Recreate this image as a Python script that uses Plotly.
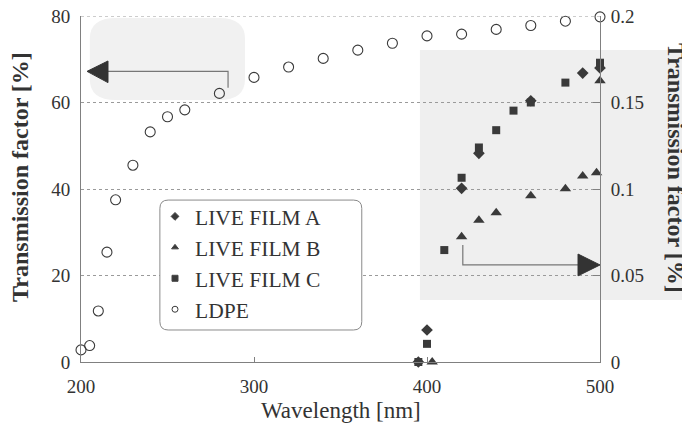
import plotly.graph_objects as go

# ---- data ----
ldpe_x = [200, 205, 210, 215, 220, 230, 240, 250, 260, 280, 300, 320, 340, 360, 380, 400, 420, 440, 460, 480, 500]
ldpe_y = [2.8, 3.8, 11.8, 25.4, 37.5, 45.5, 53.2, 56.7, 58.3, 62.1, 65.8, 68.2, 70.2, 72.1, 73.7, 75.4, 75.8, 76.9, 77.8, 78.8, 79.8]

filmA_x = [395, 400, 420, 430, 460, 490, 500]
filmA_y = [0.0, 0.0185, 0.1004, 0.1206, 0.151, 0.167, 0.170]

filmB_x = [403, 420, 430, 440, 460, 480, 490, 498, 500]
filmB_y = [0.0, 0.0724, 0.082, 0.0863, 0.0961, 0.1002, 0.1075, 0.1094, 0.1626]

filmC_x = [395, 400, 410, 420, 430, 440, 450, 460, 480, 500]
filmC_y = [0.0, 0.0105, 0.0647, 0.1065, 0.124, 0.134, 0.1453, 0.150, 0.1615, 0.173]

x_ticks = [200, 300, 400, 500]
y_ticks = [0, 20, 40, 60, 80]
y2_ticks = [0, 0.05, 0.1, 0.15, 0.2]
y2_labels = ["0", "0.05", "0.1", "0.15", "0.2"]

FONT = "Liberation Serif, Times New Roman, serif"
INK = "#333333"
MK = "#3a3a3a"
AXC = "#808080"

fig = go.Figure()

# real data traces
fig.add_trace(go.Scatter(x=filmA_x, y=filmA_y, yaxis="y2", mode="markers", showlegend=False,
                         marker=dict(symbol="diamond", size=9, color=MK), cliponaxis=False))
fig.add_trace(go.Scatter(x=filmB_x, y=filmB_y, yaxis="y2", mode="markers", showlegend=False,
                         marker=dict(symbol="triangle-up", size=10, color=MK), cliponaxis=False))
fig.add_trace(go.Scatter(x=filmC_x, y=filmC_y, yaxis="y2", mode="markers", showlegend=False,
                         marker=dict(symbol="square", size=8, color=MK), cliponaxis=False))
fig.add_trace(go.Scatter(x=ldpe_x, y=ldpe_y, mode="markers", showlegend=False,
                         marker=dict(symbol="circle-open", size=10, color=MK, line=dict(width=1.1)),
                         cliponaxis=False))

# legend entries (small symbols as in the reference)
for name, sym in [("LIVE FILM A", "diamond"), ("LIVE FILM B", "triangle-up"),
                  ("LIVE FILM C", "square"), ("LDPE", "circle-open")]:
    fig.add_trace(go.Scatter(x=[None], y=[None], mode="markers", name=name,
                             marker=dict(symbol=sym, size=6, color=MK, line=dict(width=1))))

def rrect(x0, y0, x1, y1, rx, ry):
    return (f"M {x0+rx},{y0} L {x1-rx},{y0} Q {x1},{y0} {x1},{y0+ry} L {x1},{y1-ry} "
            f"Q {x1},{y1} {x1-rx},{y1} L {x0+rx},{y1} Q {x0},{y1} {x0},{y1-ry} "
            f"L {x0},{y0+ry} Q {x0},{y0} {x0+rx},{y0} Z")

shapes = [
    # faint photo background patches of the scan
    dict(type="rect", xref="paper", yref="paper", x0=0.653, x1=1.2, y0=0.179, y1=0.902,
         fillcolor="#efefef", line=dict(width=0), layer="below"),
    dict(type="path", xref="paper", yref="paper",
         path=rrect(0.017, 0.757, 0.316, 0.994, 0.05, 0.06),
         fillcolor="#f1f1f1", line=dict(width=0), layer="below"),
    # dashed top border at 80
    dict(type="line", xref="paper", yref="y", x0=0, x1=1, y0=80, y1=80,
         line=dict(color="#9a9a9a", width=1, dash="3px,3px")),
    # legend box with rounded corners
    dict(type="path", xref="paper", yref="paper",
         path=rrect(0.152, 0.0925, 0.541, 0.468, 0.016, 0.024),
         fillcolor="white", line=dict(color="#8a8a8a", width=1), layer="above"),
    # left arrow (points to left axis)
    dict(type="path", xref="x", yref="y", path="M 285,63.4 L 285,67.2 L 215.6,67.2",
         line=dict(color="#777777", width=1.2)),
    dict(type="path", xref="x", yref="y", path="M 203.5,67.2 L 215.6,69.6 L 215.6,64.6 Z",
         fillcolor="#333333", line=dict(color="#333333", width=1)),
    # right arrow (points to right axis)
    dict(type="path", xref="x", yref="y2", path="M 420.7,0.0676 L 420.7,0.0561 L 487.3,0.0561",
         line=dict(color="#777777", width=1.2)),
    dict(type="path", xref="x", yref="y2", path="M 500,0.0561 L 487.3,0.0624 L 487.3,0.0498 Z",
         fillcolor="#333333", line=dict(color="#333333", width=1)),
]

annotations = [
    dict(text="Wavelength [nm]", xref="paper", yref="paper", x=0.5, y=-0.139,
         xanchor="center", yanchor="middle", showarrow=False,
         font=dict(family=FONT, size=23, color=INK)),
    dict(text="<b>Transmission factor [%]</b>", xref="paper", yref="paper", x=-0.1175, y=0.535,
         xanchor="center", yanchor="middle", textangle=-90, showarrow=False,
         font=dict(family=FONT, size=24, color=INK)),
    dict(text="<b>Transmission factor [%]</b>", xref="paper", yref="paper", x=1.1464, y=0.561,
         xanchor="center", yanchor="middle", textangle=90, showarrow=False,
         font=dict(family=FONT, size=24, color=INK)),
]

fig.update_layout(
    width=682, height=416,
    margin=dict(l=73, r=90, t=8, b=62, autoexpand=False),
    paper_bgcolor="white", plot_bgcolor="rgba(0,0,0,0)",
    font=dict(family=FONT, color=INK),
    xaxis=dict(range=[200, 500], tickvals=x_ticks, ticks="inside", ticklen=5, tickcolor=AXC,
               showline=True, linecolor=AXC, linewidth=1, showgrid=False, zeroline=False,
               automargin=False, ticklabeloverflow="allow",
               tickfont=dict(family=FONT, size=19, color=INK), ticklabelstandoff=7),
    yaxis=dict(range=[0, 80], tickvals=y_ticks, ticks="", showline=True, linecolor=AXC,
               linewidth=1, showgrid=True, gridcolor="#9a9a9a", griddash="3px,3px", gridwidth=1,
               zeroline=False, automargin=False, ticklabeloverflow="allow",
               tickfont=dict(family=FONT, size=19, color=INK), ticklabelstandoff=6),
    yaxis2=dict(range=[0, 0.2], overlaying="y", side="right", tickvals=y2_ticks, ticktext=y2_labels,
                ticks="inside", ticklen=7, tickcolor=AXC, showline=True, linecolor=AXC, linewidth=1,
                showgrid=False, zeroline=False, automargin=False, ticklabeloverflow="allow",
                tickfont=dict(family=FONT, size=19, color=INK), ticklabelstandoff=6),
    legend=dict(x=0.1426, y=0.48, xanchor="left", yanchor="top", bgcolor="rgba(0,0,0,0)",
                borderwidth=0, font=dict(family=FONT, size=21.5, color=INK), itemwidth=30),
    shapes=shapes,
    annotations=annotations,
)

fig.write_html("out.html")
